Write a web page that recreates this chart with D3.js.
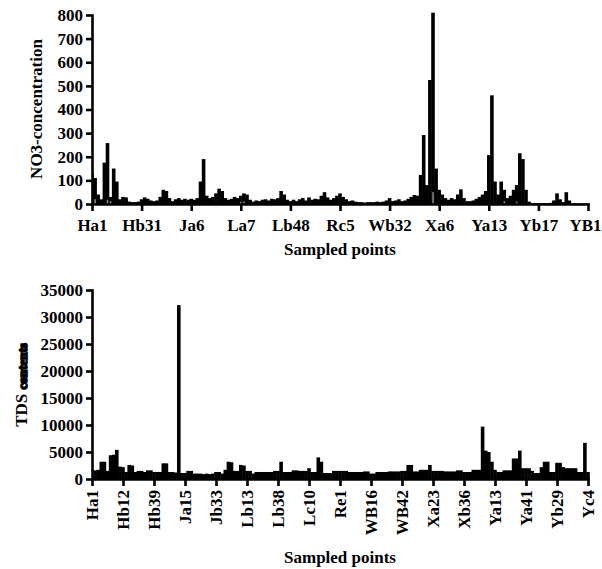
<!DOCTYPE html>
<html><head><meta charset="utf-8">
<script src="https://cdn.jsdelivr.net/npm/d3@7/dist/d3.min.js"></script>
<style>
body{margin:0;background:#fff}
svg{display:block}
text{font-family:"Liberation Serif","Times New Roman",serif;font-weight:bold;fill:#000}
</style>
</head><body>
<svg id="chart" width="602" height="569"></svg>
<script>
// ---------- Panel 1: NO3 concentration ----------
const no3Values = [
130,110,40,20,175,258,30,150,95,20,
30,28,10,8,8,10,20,28,22,15,
12,15,30,60,55,25,12,20,25,18,
22,18,22,18,25,95,190,35,25,30,
45,65,55,25,18,22,30,25,35,45,
40,18,10,15,12,18,20,15,22,20,
25,55,40,18,12,18,12,20,25,15,
28,18,22,20,35,50,28,18,25,35,
45,30,20,12,15,10,8,8,6,8,
8,8,10,8,10,15,25,12,15,20,
12,15,22,30,38,35,123,292,80,525,
810,150,60,40,25,18,25,20,40,62,
25,12,12,15,22,30,40,55,207,460,
95,40,95,60,25,35,60,80,215,190,
60,10,4,3,3,3,4,3,5,15,
45,20,8,50,15,3,3,2,2,2,2
];
const no3Minor = [
0,20,0,0,0,18,12,0,0,0,
0,0,0,0,0,0,0,0,0,0,
0,0,0,0,0,0,0,0,0,0,
0,0,0,0,0,0,0,0,0,0,
0,0,0,0,0,0,0,0,10,10,
0,0,0,0,0,0,0,0,0,0,
0,0,0,0,0,0,0,0,0,0,
0,0,0,0,0,0,0,0,0,0,
0,0,0,0,0,0,0,0,0,0,
0,0,0,0,0,0,0,0,0,0,
0,0,0,0,0,0,0,0,0,0,
50,0,0,0,0,0,0,0,0,0,
0,0,0,0,0,0,0,0,0,0,
0,0,0,12,0,0,0,10,0,0,
0,0,0,0,0,0,0,0,0,0,
0,0,0,0,0,0,0,0,0,0,0
];
const no3TickIndex = [0,16,32,48,64,80,96,112,128,144,160];
const no3TickLabels = ["Ha1","Hb31","Ja6","La7","Lb48","Rc5","Wb32","Xa6","Ya13","Yb17","YB1"];
const no3YTicks = [0,100,200,300,400,500,600,700,800];

// ---------- Panel 2: TDS contents ----------
const tdsValues = [
1500,1600,1700,3200,3200,1500,4400,4500,5400,2300,
2200,1300,2600,2500,1300,1500,1500,1300,1600,1600,
1300,1300,1300,2900,2900,1300,1300,1200,32200,1100,
1100,1500,1500,1000,1000,1000,900,1000,900,1000,
1300,1300,1000,1700,3200,3100,1500,1500,2600,2500,
1500,1500,1000,1300,1300,1300,1300,1300,1300,1500,
1500,3200,1300,1300,1300,1600,1600,1500,1500,1500,
2000,1300,1300,4000,3200,1100,1100,1100,1500,1500,
1500,1500,1500,1300,1300,1300,1300,1300,1400,1400,
1000,1000,1300,1300,1300,1300,1400,1400,1400,1400,
1500,1500,2600,2600,1400,1400,1700,1700,1700,2600,
1500,1500,1500,1500,1400,1400,1400,1400,1600,1600,
1300,1300,1300,1700,1700,1700,9700,5250,5000,3200,
1700,1300,1300,1600,1600,1600,3800,3800,5250,2000,
2000,2000,1500,1100,1100,2200,3200,3200,1300,1300,
3000,3000,2200,2000,2000,2000,2000,1300,1300,6700,1300
];
const tdsTickIndex = [0,10,20,30,40,50,60,70,80,90,100,110,120,130,140,150,160];
const tdsTickLabels = ["Ha1","Hb12","Hb39","Ja15","Jb33","Lb13","Lb38","Lc10","Re1","WB16","WB42","Xa23","Xb36","Ya13","Ya41","Yb29","Yc4"];
const tdsYTicks = [0,5000,10000,15000,20000,25000,30000,35000];

const svg = d3.select("#chart");
const FS = 17;
const W = 602;

function panel(opts){
  const g = svg.append("g");
  const n = opts.values.length;
  const x = d3.scaleLinear().domain([0, n-1]).range([opts.left, opts.right]);
  const y = d3.scaleLinear().domain([0, opts.yTicks[opts.yTicks.length-1]]).range([opts.bottom, opts.top]);
  const step = x(1) - x(0);
  const clipId = "clip" + opts.id;
  g.append("clipPath").attr("id", clipId).append("rect")
    .attr("x", opts.left).attr("y", opts.top - 10)
    .attr("width", opts.right - opts.left + step).attr("height", opts.bottom - opts.top + 10);
  const bars = g.append("g").attr("clip-path", `url(#${clipId})`);
  bars.selectAll("rect.main").data(opts.values).join("rect").attr("class","main")
    .attr("x", (d,i) => x(i) - step/2 - 0.25)
    .attr("width", step + 0.5)
    .attr("y", d => y(d))
    .attr("height", d => opts.bottom - y(d))
    .attr("fill", "#000");
  if (opts.minor){
    bars.selectAll("rect.minor").data(opts.minor).join("rect").attr("class","minor")
      .attr("x", (d,i) => x(i) - step/2 + 0.8)
      .attr("width", Math.max(step - 1.6, 0.8))
      .attr("y", d => y(d))
      .attr("height", d => opts.bottom - y(d))
      .attr("fill", "#8c8c8c")
      .attr("display", d => d > 0 ? null : "none");
  }
  // y axis
  const ya = g.append("g").attr("transform", `translate(${opts.left},0)`)
    .call(d3.axisLeft(y).tickValues(opts.yTicks).tickSize(6).tickSizeOuter(0).tickPadding(3).tickFormat(d3.format("d")));
  // x axis
  const xa = g.append("g").attr("transform", `translate(0,${opts.bottom})`)
    .call(d3.axisBottom(x).tickValues(opts.xTickIndex).tickSize(7).tickSizeOuter(0).tickPadding(8)
      .tickFormat((d,i) => opts.xTickLabels[i]));
  [ya, xa].forEach(a => {
    a.select(".domain").attr("stroke", "#000").attr("stroke-width", 2.6).attr("stroke-linecap","square");
    a.selectAll(".tick line").attr("stroke", "#000").attr("stroke-width", 2.6);
    a.selectAll("text").style("font-size", FS + "px").style("font-family", null).attr("fill", "#000");
  });
  if (opts.rotate){
    xa.selectAll(".tick text")
      .attr("transform", "rotate(-90)")
      .attr("x", -11).attr("y", 0).attr("dy", "0.35em")
      .style("text-anchor", "end");
  } else {
    // keep the last label inside the picture
    xa.selectAll(".tick text").each(function(d){
      const t = d3.select(this);
      const bb = this.getBBox();
      const cx = x(d);
      if (cx + bb.width/2 > W - 1){
        t.attr("text-anchor", "end").attr("x", (W - 1) - cx);
      }
    });
  }
  // axis titles
  g.append("text").attr("x", (opts.left + opts.right)/2).attr("y", opts.xTitleY)
    .attr("text-anchor", "middle").style("font-size", FS + "px").text("Sampled points");
  const yt = g.append("text")
    .attr("transform", `translate(${opts.yTitleX},${opts.yTitleCY}) rotate(-90)`)
    .attr("text-anchor", "middle").attr("dy", "0.35em").style("font-size", FS + "px");
  opts.yTitle(yt);
}

panel({
  id: 1, values: no3Values, minor: no3Minor,
  left: 92, right: 588, top: 15, bottom: 204,
  yTicks: no3YTicks, xTickIndex: no3TickIndex, xTickLabels: no3TickLabels,
  rotate: false, xTitleY: 255, yTitleX: 36, yTitleCY: 109,
  yTitle: t => t.text("NO3-concentration")
});

panel({
  id: 2, values: tdsValues,
  left: 92, right: 588, top: 290, bottom: 479,
  yTicks: tdsYTicks, xTickIndex: tdsTickIndex, xTickLabels: tdsTickLabels,
  rotate: true, xTitleY: 563, yTitleX: 21, yTitleCY: 385,
  yTitle: t => {
    t.append("tspan").text("TDS ");
    t.append("tspan").style("font-size", "13px").attr("stroke", "#000").attr("stroke-width", 1.6).text("contents");
  }
});
</script>
</body></html>
